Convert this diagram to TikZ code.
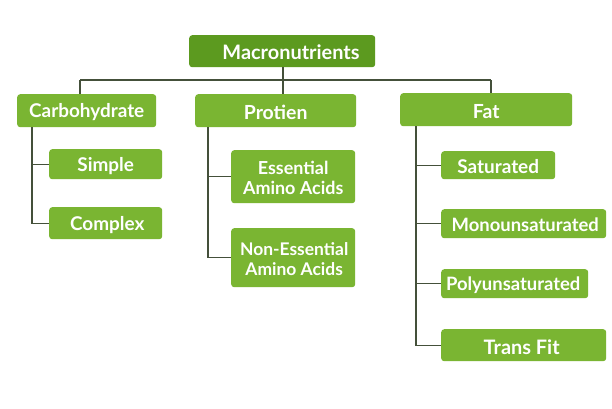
\documentclass[tikz,border=0pt]{standalone}
\usepackage{fontspec}
\setmainfont{Lato}
\definecolor{boxg}{HTML}{7AB532}
\definecolor{topg}{HTML}{5C9A1F}
\definecolor{lineg}{HTML}{44503A}
\begin{document}
\begin{tikzpicture}[x=1bp,y=-1bp,
  box/.style={fill=boxg,rounded corners=3bp,inner sep=0pt,anchor=north west},
  lbl/.style={text=white,font=\fontsize{#1}{20}\selectfont\bfseries,align=center,inner sep=0pt,yshift=-1.5bp},
  lbl/.default=19,
  conn/.style={draw=lineg,line width=1.2bp}]
\useasboundingbox (0,0) rectangle (612,408);
\fill[white] (0,0) rectangle (612,408);
% top
\node[box,fill=topg,minimum width=186bp,minimum height=32bp] (mac) at (189,35) {};
\node[lbl=20] (macl) at (291,51) {Macronutrients};
% level 1
\node[box,minimum width=139bp,minimum height=33bp] (carb) at (17,94) {};
\node[lbl=19] (carbl) at (carb.center) {Carbohydrate};
\node[box,minimum width=161bp,minimum height=33bp] (prot) at (195,94) {};
\node[lbl=19.5] (protl) at (prot.center) {Protien};
\node[box,minimum width=172bp,minimum height=33bp] (fat) at (400,93) {};
\node[lbl=19.5] (fatl) at (fat.center) {Fat};
% carb children
\node[box,minimum width=113bp,minimum height=30bp] (simp) at (49,149) {};
\node[lbl=19] (simpl) at (simp.center) {Simple};
\node[box,minimum width=113bp,minimum height=32bp] (comp) at (49,207) {};
\node[lbl=19] (compl) at ([xshift=1.5bp]comp.center) {Complex};
% protein children
\node[box,minimum width=124bp,minimum height=53bp] (ess) at (231,150) {};
\node[lbl=18] (essl) at (ess.center) {Essential\\Amino Acids};
\node[box,minimum width=124bp,minimum height=59bp] (ness) at (231,228) {};
\node[lbl=17.5] (nessl) at ([xshift=1bp]ness.center) {Non-Essential\\Amino Acids};
% fat children
\node[box,minimum width=114bp,minimum height=28bp] (sat) at (441,151) {};
\node[lbl=19] (satl) at (sat.center) {Saturated};
\node[box,minimum width=165bp,minimum height=29bp] (mono) at (441,209) {};
\node[lbl=18.5] (monol) at ([xshift=1.5bp]mono.center) {Monounsaturated};
\node[box,minimum width=147bp,minimum height=29bp] (poly) at (441,269) {};
\node[lbl=18.5] (polyl) at ([xshift=-1.5bp]poly.center) {Polyunsaturated};
\node[box,minimum width=165bp,minimum height=32bp] (trans) at (441,329) {};
\node[lbl=20] (transl) at ([xshift=-2bp]trans.center) {Trans Fit};
% connectors
\coordinate (hl) at (80,80);
\coordinate (hr) at (491,80);
\coordinate (hm) at (283,80);
\draw[conn] (hl) -- (hr);
\draw[conn] (hm) -- (hm |- mac.south);
\draw[conn] (hl) -- (hl |- carb.north);
\draw[conn] (hm) -- (hm |- prot.north);
\draw[conn] (hr) -- (hr |- fat.north);
% carb tree
\coordinate (ct) at (32,0);
\draw[conn] (ct |- carb.south) -- (ct |- comp.west) -- (comp.west);
\draw[conn] (ct |- simp.west) -- (simp.west);
% protein tree
\coordinate (pt) at (208,0);
\draw[conn] (pt |- prot.south) -- (pt |- ness.west) -- (ness.west);
\draw[conn] (pt |- ess.west) -- (ess.west);
% fat tree
\coordinate (ft) at (416,0);
\draw[conn] (ft |- fat.south) -- (ft |- trans.west) -- (trans.west);
\draw[conn] (ft |- sat.west) -- (sat.west);
\draw[conn] (ft |- mono.west) -- (mono.west);
\draw[conn] (ft |- poly.west) -- (poly.west);
\end{tikzpicture}
\end{document}
